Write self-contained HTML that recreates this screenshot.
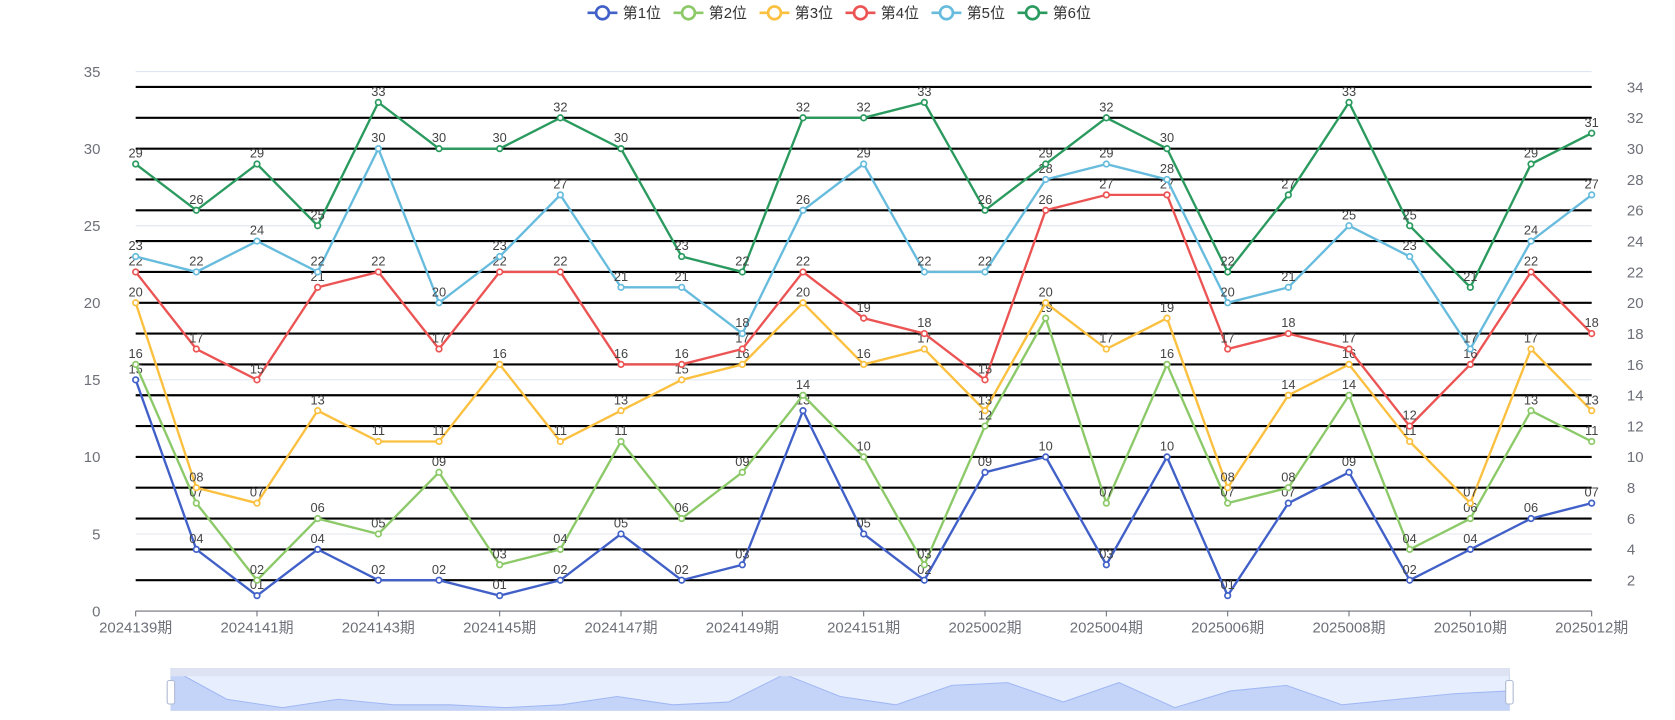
<!DOCTYPE html>
<html><head><meta charset="utf-8">
<style>
html,body{margin:0;padding:0;background:#fff;}
svg{display:block;font-family:"Liberation Sans","Noto Sans CJK SC",sans-serif;}
</style></head>
<body>
<svg id="chart" width="1675" height="720" viewBox="0 0 1568 674" preserveAspectRatio="none" xmlns="http://www.w3.org/2000/svg"></svg>
<script>
const categories=["2024139期","2024140期","2024141期","2024142期","2024143期","2024144期","2024145期","2024146期","2024147期","2024148期","2024149期","2024150期","2024151期","2024152期","2025002期","2025003期","2025004期","2025005期","2025006期","2025007期","2025008期","2025009期","2025010期","2025011期","2025012期"];
const pos1=[15,4,1,4,2,2,1,2,5,2,3,13,5,2,9,10,3,10,1,7,9,2,4,6,7];
const pos2=[16,7,2,6,5,9,3,4,11,6,9,14,10,3,12,19,7,16,7,8,14,4,6,13,11];
const pos3=[20,8,7,13,11,11,16,11,13,15,16,20,16,17,13,20,17,19,8,14,16,11,7,17,13];
const pos4=[22,17,15,21,22,17,22,22,16,16,17,22,19,18,15,26,27,27,17,18,17,12,16,22,18];
const pos5=[23,22,24,22,30,20,23,27,21,21,18,26,29,22,22,28,29,28,20,21,25,23,17,24,27];
const pos6=[29,26,29,25,33,30,30,32,30,23,22,32,32,33,26,29,32,30,22,27,33,25,21,29,31];
const seriesNames=["第1位","第2位","第3位","第4位","第5位","第6位"];
const leftTicks=[0,5,10,15,20,25,30,35];
const rightTicks=[2,4,6,8,10,12,14,16,18,20,22,24,26,28,30,32,34];

const colors=["#4160c8","#8cc968","#fbc03f","#ec5454","#67bcde","#2a9a5e"];
const allSeries=[pos1,pos2,pos3,pos4,pos5,pos6];
const NS="http://www.w3.org/2000/svg";
const svg=document.getElementById('chart');
const X0=127,X1=1490,Y0=572,Y35=67;
const x=i=>X0+i*(X1-X0)/(categories.length-1);
const y=v=>Y0-v*(Y0-Y35)/35;
function mk(tag,attrs,parent){const e=document.createElementNS(NS,tag);for(const k in attrs)e.setAttribute(k,attrs[k]);(parent||svg).appendChild(e);return e;}

leftTicks.forEach(t=>{
  if(t>0){const g=mk('line',{x1:X0,x2:X1,y1:y(t),y2:y(t),stroke:'#e0e6f1','stroke-width':1});
  
  }
  const l=mk('text',{x:X0-33,y:y(t)+5,'text-anchor':'end','font-size':14,fill:'#6e7079'});
  l.textContent=t;
  
  
});
rightTicks.forEach(t=>{
  const g=mk('line',{x1:X0,x2:X1,y1:y(t),y2:y(t),stroke:'#000','stroke-width':2});
  
  
  const l=mk('text',{x:X1+33,y:y(t)+5,'text-anchor':'start','font-size':14,fill:'#6e7079'});
  l.textContent=t;
  
  
});
const ax=mk('line',{x1:X0,x2:X1,y1:Y0,y2:Y0,stroke:'#6e7079','stroke-width':1});


categories.forEach((c,i)=>{
  if(i%2)return;
  const tk=mk('line',{x1:x(i),x2:x(i),y1:Y0,y2:Y0+5,stroke:'#6e7079'});
  
  
  const l=mk('text',{x:x(i),y:Y0+20,'text-anchor':'middle','font-size':14,fill:'#6e7079'});
  l.textContent=c;
  
  
});
allSeries.forEach((d,s)=>{
  const g=mk('g',{});
  
  
  const p=mk('polyline',{points:d.map((v,i)=>x(i)+','+y(v)).join(' '),fill:'none',stroke:colors[s],'stroke-width':2.2},g);
  
  
  d.forEach((v,i)=>{
    const c=mk('circle',{cx:x(i),cy:y(v),r:2.6,fill:'#fff',stroke:colors[s],'stroke-width':1.6},g);
    
    
    const t=mk('text',{x:x(i),y:y(v)-6,'text-anchor':'middle','font-size':12,fill:'#444'},g);
    t.textContent=String(v).padStart(2,'0');
    
    
  });
});
let lx=550;
seriesNames.forEach((n,s)=>{
  const g=mk('g',{});
  
  
  mk('line',{x1:lx,x2:lx+28,y1:12,y2:12,stroke:colors[s],'stroke-width':2.5},g);
  mk('circle',{cx:lx+14,cy:12,r:6,fill:'#fff',stroke:colors[s],'stroke-width':2.5},g);
  const t=mk('text',{x:lx+33,y:17,'font-size':14,fill:'#333'},g);
  t.textContent=n;
  lx+=80.5;
});
const SZ0=160,SZ1=1413,SY0=626,SY1=665;
const dz=mk('g',{});


mk('rect',{x:SZ0,y:SY0,width:SZ1-SZ0,height:SY1-SY0,fill:'#fff',stroke:'#d2dbee'},dz);
const sx=i=>SZ0+i*(SZ1-SZ0)/(pos1.length-1);
const sy=v=>SY1-v*(SY1-SY0)/15;
let ap='M'+SZ0+','+SY1+' '+pos1.map((v,i)=>'L'+sx(i)+','+sy(v)).join(' ')+' L'+SZ1+','+SY1+'Z';
mk('path',{d:ap,fill:'#d4def8',stroke:'none'},dz);
mk('polyline',{points:pos1.map((v,i)=>sx(i)+','+sy(v)).join(' '),fill:'none',stroke:'#a8bbf0','stroke-width':1},dz);
mk('rect',{x:SZ0,y:SY0,width:SZ1-SZ0,height:SY1-SY0,fill:'rgba(135,175,255,0.2)'},dz);
mk('rect',{x:SZ0,y:SY0,width:SZ1-SZ0,height:7,fill:'#dde3f3'},dz);
[SZ0,SZ1].forEach((hx,k)=>{
  const h=mk('rect',{x:hx-3.5,y:637,width:7,height:22,rx:2,fill:'#fff',stroke:'#acb8d1'},dz);
  
  
});
</script>
</body></html>
